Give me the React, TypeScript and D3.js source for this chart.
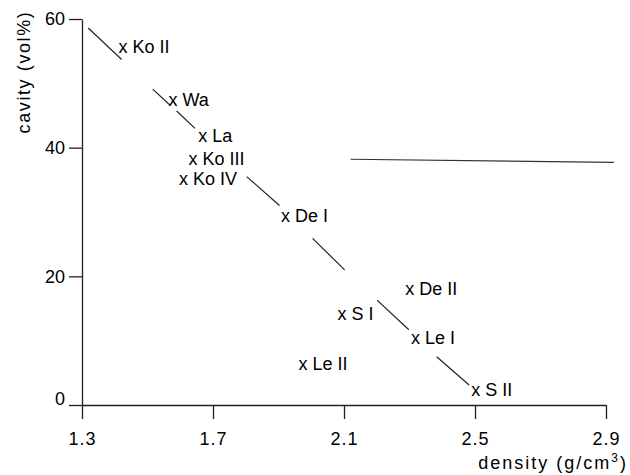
import React, { useEffect, useRef } from 'react';
import * as d3 from 'd3';

// sample points: density (g/cm3) vs cavity (vol%)
const sampleNames = ['Ko II', 'Wa', 'La', 'Ko III', 'Ko IV', 'De I', 'De II', 'S I', 'Le I', 'Le II', 'S II'];
const densities = [1.425, 1.578, 1.669, 1.639, 1.61, 1.921, 2.301, 2.094, 2.318, 1.975, 2.502];
const cavities = [55.5, 47.3, 41.7, 38.1, 35.0, 29.2, 17.9, 14.0, 10.2, 6.2, 2.2];

// the fitted line, drawn in pieces between the labels: [d0, c0, d1, c1]
const fitPieces = [
  [1.319, 58.6, 1.421, 53.7],
  [1.516, 49.1, 1.569, 46.6],
  [1.589, 45.7, 1.645, 43.0],
  [1.803, 35.5, 1.903, 31.0],
  [2.004, 25.9, 2.102, 21.0],
  [2.201, 16.3, 2.298, 11.7],
  [2.383, 7.5, 2.482, 3.1],
];

// the flat line on the right
const flatLine = [2.12, 38.2, 2.924, 37.7];

const xTicks = [1.3, 1.7, 2.1, 2.5, 2.9];
const yTicks = [0, 20, 40, 60];

const FONT = '"Liberation Sans", Arial, Helvetica, sans-serif';

export default function App() {
  const ref = useRef<SVGSVGElement>(null);

  useEffect(() => {
    const svg = d3.select(ref.current);
    svg.selectAll('*').remove();

    const x = d3.scaleLinear().domain([1.3, 2.9]).range([82, 606]);
    const y = d3.scaleLinear().domain([0, 60]).range([405, 19]);

    // y axis
    const yAxis = svg.append('g')
      .attr('transform', `translate(${x(1.3)},0)`)
      .call(d3.axisLeft(y).tickValues(yTicks).tickSize(13).tickSizeOuter(0).tickPadding(4).tickFormat(d3.format('d')));
    yAxis.selectAll('text')
      .attr('font-size', 18)
      .attr('font-family', FONT)
      .attr('fill', '#000')
      .attr('dy', (d: any) => (d === 0 ? '-0.02em' : '0.32em'));

    // x axis
    const xAxis = svg.append('g')
      .attr('transform', `translate(0,${y(0)})`)
      .call(d3.axisBottom(x).tickValues(xTicks).tickSize(14).tickSizeOuter(0).tickPadding(13).tickFormat(d3.format('.1f')));
    xAxis.selectAll('text')
      .attr('font-size', 18)
      .attr('font-family', FONT)
      .attr('letter-spacing', 1)
      .attr('fill', '#000');

    svg.selectAll('.domain, .tick line').attr('stroke', '#222').attr('stroke-width', 1.3);

    // fitted line pieces
    svg.append('g')
      .selectAll('line')
      .data(fitPieces)
      .join('line')
      .attr('x1', d => x(d[0]))
      .attr('y1', d => y(d[1]))
      .attr('x2', d => x(d[2]))
      .attr('y2', d => y(d[3]))
      .attr('stroke', '#222')
      .attr('stroke-width', 1.2);

    svg.append('line')
      .attr('x1', x(flatLine[0]))
      .attr('y1', y(flatLine[1]))
      .attr('x2', x(flatLine[2]))
      .attr('y2', y(flatLine[3]))
      .attr('stroke', '#333')
      .attr('stroke-width', 1.2);

    // labelled points: the "x" sits on the value
    const points = sampleNames.map((name, i) => ({ name, d: densities[i], c: cavities[i] }));
    svg.append('g')
      .selectAll('text')
      .data(points)
      .join('text')
      .attr('x', p => x(p.d) - 4.5)
      .attr('y', p => y(p.c))
      .attr('dy', '0.27em')
      .attr('font-size', 18)
      .attr('font-family', FONT)
      .attr('fill', '#000')
      .text(p => `x ${p.name}`);

    // axis titles
    svg.append('text')
      .attr('transform', 'translate(29.5,72) rotate(-90)')
      .attr('text-anchor', 'middle')
      .attr('font-size', 18)
      .attr('font-family', FONT)
      .attr('letter-spacing', 1.6)
      .attr('fill', '#000')
      .text('cavity (vol%)');

    const xt = svg.append('text')
      .attr('x', 628)
      .attr('y', 469)
      .attr('text-anchor', 'end')
      .attr('font-size', 18)
      .attr('font-family', FONT)
      .attr('letter-spacing', 2)
      .attr('fill', '#000');
    xt.append('tspan').text('density (g/cm');
    xt.append('tspan').attr('font-size', 12).attr('dy', -7).text('3');
    xt.append('tspan').attr('dy', 7).text(')');
  }, []);

  return (
    <svg
      ref={ref}
      width={630}
      height={475}
      style={{ position: 'absolute', left: 0, top: 0, background: '#fff' }}
    />
  );
}
